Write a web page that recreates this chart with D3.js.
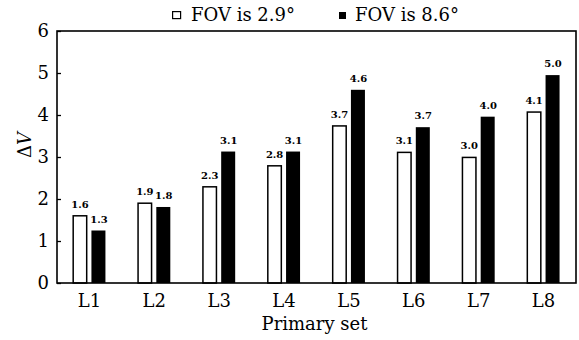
<!DOCTYPE html>
<html>
<head>
<meta charset="utf-8">
<script src="https://cdn.jsdelivr.net/npm/d3@7"></script>
<style>
  body { margin: 0; background: #fff; }
  text { font-family: "DejaVu Serif", serif; fill: #000; }
</style>
</head>
<body>
<svg id="chart" width="579" height="340"></svg>
<script>
// データ
const categories = ["L1", "L2", "L3", "L4", "L5", "L6", "L7", "L8"];
const seriesNames = ["FOV is 2.9°", "FOV is 8.6°"];
const fov29 = [1.6, 1.9, 2.29, 2.79, 3.74, 3.11, 2.99, 4.07];
const fov86 = [1.25, 1.81, 3.13, 3.13, 4.6, 3.71, 3.96, 4.95];
const labels29 = ["1.6", "1.9", "2.3", "2.8", "3.7", "3.1", "3.0", "4.1"];
const labels86 = ["1.3", "1.8", "3.1", "3.1", "4.6", "3.7", "4.0", "5.0"];
const yTicks = [0, 1, 2, 3, 4, 5, 6];

const svg = d3.select("#chart");
const margin = { top: 31, right: 3, bottom: 57, left: 57 };
const width = 579 - margin.left - margin.right;
const height = 340 - margin.top - margin.bottom;

const g = svg.append("g").attr("transform", `translate(${margin.left},${margin.top})`);

// スケール
const x0 = d3.scaleBand().domain(categories).range([0, width]).paddingInner(0.476).paddingOuter(0.238);
const x1 = d3.scaleBand().domain([0, 1]).range([0, x0.bandwidth()]).paddingInner(0.21);
const y = d3.scaleLinear().domain([0, 6]).range([height, 0]);

const rows = categories.map((c, i) => ({
  cat: c,
  vals: [
    { s: 0, v: fov29[i], label: labels29[i] },
    { s: 1, v: fov86[i], label: labels86[i] }
  ]
}));

// 棒の描画
const groups = g.selectAll("g.grp").data(rows).enter().append("g")
  .attr("class", "grp")
  .attr("transform", d => `translate(${x0(d.cat)},0)`);

groups.selectAll("rect").data(d => d.vals).enter().append("rect")
  .attr("x", d => x1(d.s) + (d.s === 0 ? 0.75 : 0))
  .attr("y", d => y(d.v))
  .attr("width", d => d.s === 0 ? x1.bandwidth() - 1.5 : x1.bandwidth() - 1)
  .attr("height", d => y(0) - y(d.v))
  .attr("fill", d => d.s === 0 ? "#fff" : "#000")
  .attr("stroke", "#000")
  .attr("stroke-width", d => d.s === 0 ? 1.5 : 0);

// 値ラベル
groups.selectAll("text").data(d => d.vals).enter().append("text")
  .attr("x", d => x1(d.s) + x1.bandwidth() / 2)
  .attr("y", d => y(d.v) - 8)
  .attr("text-anchor", "middle")
  .style("font-size", "10px")
  .style("font-weight", "bold")
  .text(d => d.label);

// 軸
const yAxis = d3.axisLeft(y).tickValues(yTicks).tickSize(-4).tickPadding(8).tickFormat(d3.format("d"));
const gy = g.append("g").call(yAxis);
gy.select(".domain").remove();
gy.selectAll(".tick line").attr("stroke-width", 1.3);
gy.selectAll(".tick text").style("font-size", "18px").style("font-family", "DejaVu Serif, serif");

const xAxis = d3.axisBottom(x0).tickSize(0).tickPadding(11);
const gx = g.append("g").attr("transform", `translate(0,${height})`).call(xAxis);
gx.select(".domain").remove();
gx.selectAll(".tick text").style("font-size", "18px").style("font-family", "DejaVu Serif, serif");

// 枠
g.append("rect")
  .attr("x", 0).attr("y", 0)
  .attr("width", width).attr("height", height)
  .attr("fill", "none").attr("stroke", "#000").attr("stroke-width", 1.6);

// 軸ラベル
g.append("text")
  .attr("x", width / 2 - 2)
  .attr("y", height + 47)
  .attr("text-anchor", "middle")
  .style("font-size", "18px")
  .text("Primary set");

const yl = svg.append("text")
  .attr("transform", "translate(31,145) rotate(-90)")
  .attr("text-anchor", "middle")
  .style("font-size", "18px");
yl.append("tspan").text("Δ");
yl.append("tspan").style("font-style", "italic").text("V");

// 凡例
const legendX = [172, 339];
const legend = svg.selectAll("g.leg").data(seriesNames).enter().append("g")
  .attr("class", "leg")
  .attr("transform", (d, i) => `translate(${legendX[i]},0)`);
legend.append("rect")
  .attr("x", (d, i) => i === 0 ? 0.6 : 0)
  .attr("y", (d, i) => i === 0 ? 11.6 : 12)
  .attr("width", (d, i) => i === 0 ? 8 : 7)
  .attr("height", 7)
  .attr("fill", (d, i) => i === 0 ? "#fff" : "#000")
  .attr("stroke", "#000")
  .attr("stroke-width", (d, i) => i === 0 ? 1.2 : 0);
legend.append("text")
  .attr("x", (d, i) => i === 0 ? 19 : 16)
  .attr("y", 21)
  .style("font-size", "18px")
  .text(d => d);
</script>
</body>
</html>
